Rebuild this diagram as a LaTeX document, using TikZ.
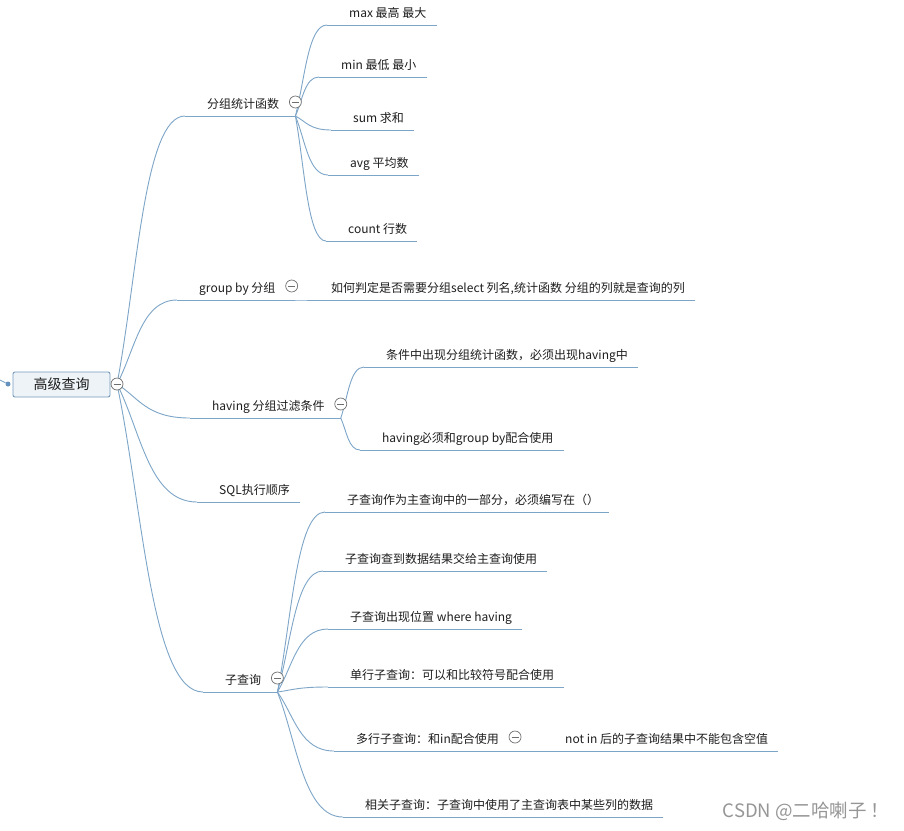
\documentclass[tikz,border=0pt]{standalone}
\usepackage{fontspec}
\setmainfont{Noto Sans CJK SC}
\usepackage{tikz}
\definecolor{mmblue}{RGB}{125,165,200}
\definecolor{mmroot}{RGB}{238,243,247}
\definecolor{mmedge}{RGB}{118,155,190}
\definecolor{mmdot}{RGB}{100,145,190}
\definecolor{mmgray}{RGB}{110,110,110}
\definecolor{mmtext}{RGB}{30,30,30}
\definecolor{mmmark}{RGB}{150,150,150}
\usetikzlibrary{calc,backgrounds}

\begin{document}
\begin{tikzpicture}[x=1pt,y=-1pt,
  topic/.style={anchor=south west,inner xsep=10pt,inner ysep=4pt,text height=9pt,text depth=3.5pt,
    font=\fontsize{12pt}{14pt}\selectfont,text=mmtext,execute at begin node=\hspace{12pt},
    append after command={(\tikzlastnode.south west) edge[draw=mmblue,line width=0.9pt] (\tikzlastnode.south east)}},
  parent/.style={topic,execute at end node=\hspace{6pt}},
  fold/.style={circle,draw=mmgray,fill=white,line width=0.7pt,minimum size=12pt,inner sep=0pt,
    path picture={\draw[mmgray,line width=0.7pt] ([xshift=-3.5pt]path picture bounding box.center)--([xshift=3.5pt]path picture bounding box.center);}},
  branch/.style={draw=mmblue,line width=0.9pt,to path={let \p1=(\tikztostart),\p2=(\tikztotarget) in
    .. controls ({\x1+0.3*(\x2-\x1)},{\y1+0.4*(\y2-\y1)}) and ({\x1+0.4*(\x2-\x1)},\y2) .. (\tikztotarget)}}]
  \useasboundingbox (0,0) rectangle (904,830);
  % root
  \node[draw=mmedge,line width=0.9pt,fill=mmroot,rounded corners=2pt,minimum width=97pt,minimum height=25pt,
    font=\fontsize{14pt}{16pt}\selectfont,text=mmtext] (root) at (61.5,384.5) {高级查询};
  \node[fold] (rc) at (117,384) {};
  \node[circle,fill=mmdot,inner sep=0pt,minimum size=5pt] (dot) at (8,384) {};
  \coordinate (lead) at (0,380);
  \draw[mmblue,line width=0.9pt] (lead) -- (dot);
  % first level
  \node[parent] (fz) at (185,116) {分组统计函数};
  \node[parent] (gb) at (177,300) {group by 分组};
  \node[parent] (hv) at (190,418) {having 分组过滤条件};
  \node[topic] (sql) at (197,502) {SQL执行顺序};
  \node[parent] (zc) at (203,692) {子查询};
  % second level
  \node[topic] (max) at (327,25) {max 最高 最大};
  \node[topic] (min) at (319,77) {min 最低 最小};
  \node[topic] (sum) at (331,130) {sum 求和};
  \node[topic] (avg) at (328,175) {avg 平均数};
  \node[topic] (cnt) at (326,241) {count 行数};
  \node[topic] (gbc) at (309,300) {如何判定是否需要分组select 列名,统计函数 分组的列就是查询的列};
  \node[topic] (hv1) at (364,367) {条件中出现分组统计函数，必须出现having中};
  \node[topic] (hv2) at (360,450) {having必须和group by配合使用};
  \node[topic] (zc1) at (325,512) {子查询作为主查询中的一部分，必须编写在（）};
  \node[topic] (zc2) at (323,571) {子查询查到数据结果交给主查询使用};
  \node[topic] (zc3) at (328,629) {子查询出现位置 where having};
  \node[topic] (zc4) at (328,687) {单行子查询：可以和比较符号配合使用};
  \node[parent] (zc5) at (334,751) {多行子查询：和in配合使用};
  \node[topic] (zc6) at (343,817) {相关子查询：子查询中使用了主查询表中某些列的数据};
  \node[topic] (zc5a) at (543,751) {not in 后的子查询结果中不能包含空值};
  % fold buttons
  \node[fold] (fzf) at ([yshift=14pt]fz.south east) {};
  \node[fold] (gbf) at ([yshift=14pt]gb.south east) {};
  \node[fold] (hvf) at ([yshift=14pt]hv.south east) {};
  \node[fold] (zcf) at ([yshift=14pt]zc.south east) {};
  \node[fold] (zc5f) at ([yshift=14pt]zc5.south east) {};
  \node[text=mmmark,font=\fontsize{18.5pt}{20pt}\selectfont,anchor=east] (mark) at (893,811) {CSDN @二哈喇子 ！};
  \begin{scope}[on background layer]
    \fill[white] (0,0) rectangle (904,830);
    \draw[branch] (rc.center) to (fz.south west);
    \draw[branch] (rc.center) to (gb.south west);
    \draw[branch] (rc.center) to (hv.south west);
    \draw[branch] (rc.center) to (sql.south west);
    \draw[branch] (rc.center) to (zc.south west);
    \draw[branch] (fz.south east) to (max.south west);
    \draw[branch] (fz.south east) to (min.south west);
    \draw[branch] (fz.south east) to (sum.south west);
    \draw[branch] (fz.south east) to (avg.south west);
    \draw[branch] (fz.south east) to (cnt.south west);
    \draw[branch] (gb.south east) to (gbc.south west);
    \draw[branch] (hv.south east) to (hv1.south west);
    \draw[branch] (hv.south east) to (hv2.south west);
    \draw[branch] (zc.south east) to (zc1.south west);
    \draw[branch] (zc.south east) to (zc2.south west);
    \draw[branch] (zc.south east) to (zc3.south west);
    \draw[branch] (zc.south east) to (zc4.south west);
    \draw[branch] (zc.south east) to (zc5.south west);
    \draw[branch] (zc.south east) to (zc6.south west);
    \draw[branch] (zc5.south east) to (zc5a.south west);
  \end{scope}
\end{tikzpicture}
\end{document}
